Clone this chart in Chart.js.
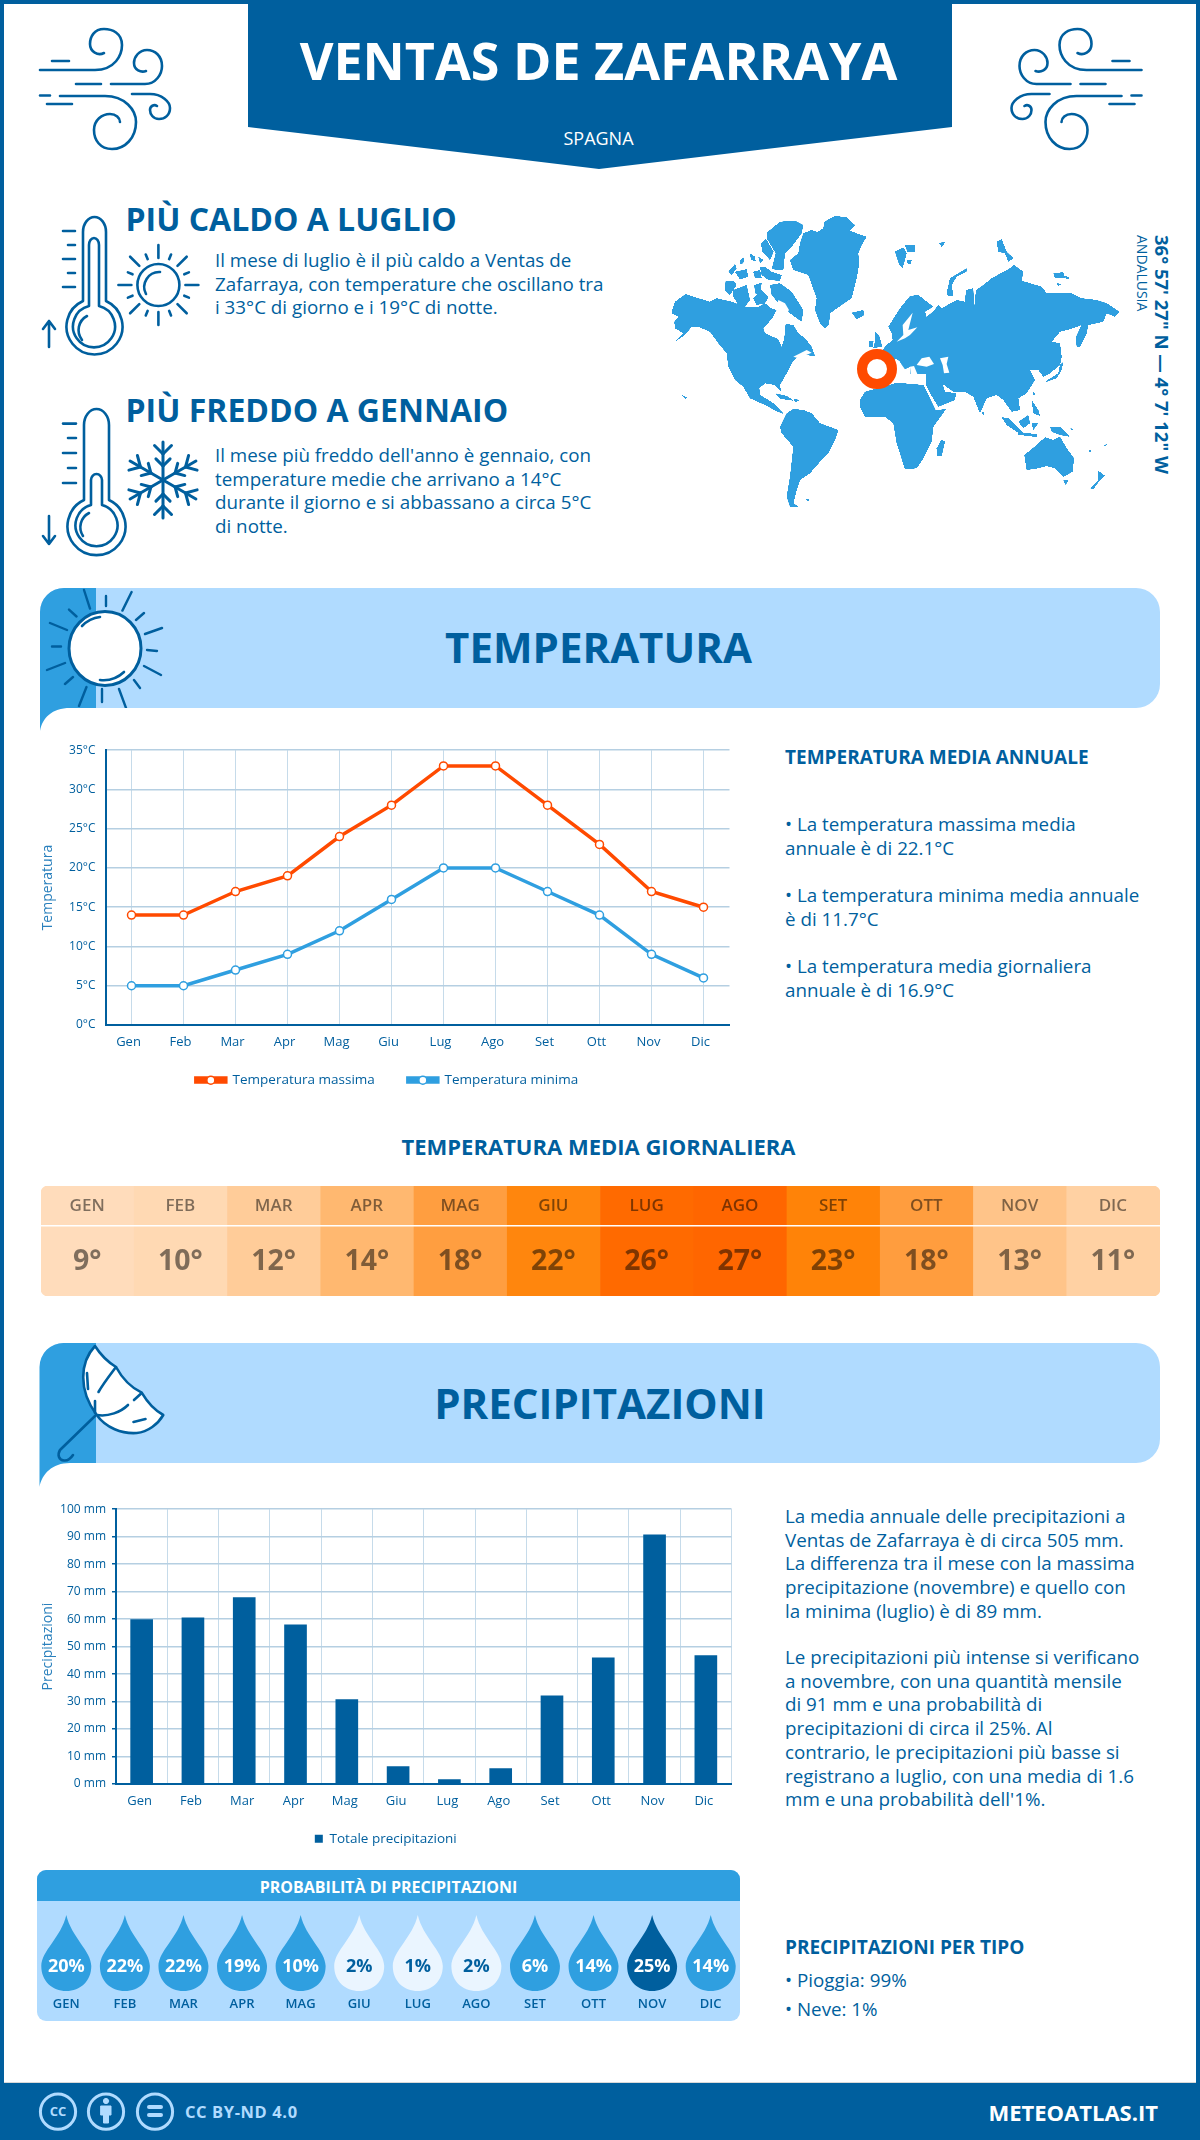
<!DOCTYPE html>
<html lang="it">
<head>
<meta charset="utf-8">
<title>Ventas de Zafarraya</title>
<script src="https://cdn.jsdelivr.net/npm/chart.js@4"></script>
<style>
html,body{margin:0;padding:0;background:#fff}
#page{position:relative;width:1200px;height:2140px;overflow:hidden;font-family:"Open Sans",sans-serif;color:#005f9e}
#page svg.layer{position:absolute;left:0;top:0}
canvas{position:absolute;display:block}
.t{position:absolute;white-space:nowrap;line-height:1;margin:0}
.b{font-weight:700}
.c{left:0;width:1197px;text-align:center}
.p{position:absolute;white-space:nowrap;margin:0;font-size:18.8px;line-height:23.7px;left:785px}
</style>
</head>
<body>
<div id="page">
<svg class="layer" width="1200" height="2140" viewBox="0 0 1200 2140" id="art">
  <defs>
    <clipPath id="bandClip1"><rect x="40" y="588" width="200" height="120"/></clipPath>
    <filter id="soft" color-interpolation-filters="sRGB">
      <feGaussianBlur stdDeviation="2.2"/>
      <feComponentTransfer><feFuncA type="linear" slope="8" intercept="-3"/></feComponentTransfer>
    </filter>
  </defs>
  <!-- frame -->
  <rect x="0" y="0" width="1200" height="4" fill="#005f9e"/>
  <rect x="0" y="0" width="4" height="2140" fill="#005f9e"/>
  <rect x="1196" y="0" width="4" height="2140" fill="#005f9e"/>
  <rect x="0" y="2083" width="1200" height="57" fill="#005f9e"/>
  <rect x="4" y="2082" width="1192" height="1" fill="#d8d8d8"/>
  <!-- header ribbon -->
  <polygon points="248,0 952,0 952,127 599,169 248,127" fill="#005f9e"/>
  <!-- section bands -->
  <rect x="40" y="588" width="1120" height="120" rx="24" ry="24" fill="#b0dbff"/>
  <path d="M40 731 V612 A24 24 0 0 1 64 588 H96 V708 H70 C52 708 42 718 40 731 Z" fill="#2f9fe0"/>
  <rect x="40" y="1343" width="1120" height="120" rx="24" ry="24" fill="#b0dbff"/>
  <path d="M39.5 1487 V1367 A24 24 0 0 1 64 1343 H96 V1463 H70 C52 1463 42 1474 39.5 1487 Z" fill="#2f9fe0"/>
  <!-- probability panel -->
  <rect x="37" y="1870" width="703" height="151" rx="9" ry="9" fill="#b0dbff"/>
  <path d="M37 1901 V1879 A9 9 0 0 1 46 1870 H731 A9 9 0 0 1 740 1879 V1901 Z" fill="#2f9fe0"/>

  <!-- world map: west half -->
  <g transform="translate(665,210) scale(0.33333)">
    <g fill="#2f9fe0" filter="url(#soft)">
      <polygon points="415,70 440,60 458,66 475,55 478,35 510,18 545,22 570,45 555,62 580,72 605,80 590,105 580,130 582,165 575,205 560,265 530,285 495,310 492,345 480,355 465,340 450,300 455,265 430,195 385,180 375,150 400,130 405,100"/>
      <polygon points="305,68 345,35 390,32 415,45 410,70 380,110 360,130 355,180 320,178 332,130 305,85"/>
      <polygon points="288,100 303,87 326,125 315,150 292,125"/>
      <polygon points="190,185 210,162 215,175 200,195"/>
      <polygon points="225,150 237,142 235,160 225,162"/>
      <polygon points="210,185 245,178 250,200 225,208"/>
      <polygon points="254,130 270,140 272,155 258,148"/>
      <polygon points="280,140 295,150 285,160"/>
      <polygon points="265,185 285,180 290,205 270,205"/>
      <polygon points="285,172 300,170 320,185 350,195 345,212 310,210 290,195"/>
      <polygon points="182,212 205,212 215,225 195,255 180,240"/>
      <polygon points="205,240 245,225 255,270 240,290 220,285 205,260"/>
      <polygon points="268,225 290,218 285,255 270,250"/>
      <polygon points="290,240 310,262 300,280 275,285 265,265"/>
      <polygon points="315,225 345,220 380,245 415,300 410,335 375,310 345,285 320,255"/>
      <polygon points="20,305 30,275 62,252 100,265 135,275 155,265 200,275 240,290 280,290 300,280 318,295 335,300 322,325 295,355 300,370 340,388 350,412 358,385 362,342 385,345 400,370 420,385 440,410 450,438 420,435 400,440 385,452 365,490 345,525 348,545 330,525 300,520 283,535 285,555 310,570 325,580 345,600 357,612 338,605 300,585 255,565 235,530 210,510 190,470 185,430 160,400 135,365 100,350 80,350 60,375 30,395 55,370 30,355 28,335 40,320 20,310"/>
      <polygon points="330,550 365,558 387,572 345,566"/>
      <polygon points="385,566 404,570 390,577"/>
      <polygon points="50,554 68,563 60,566"/>
      <polygon points="345,650 365,610 385,597 415,600 440,610 465,640 520,660 510,690 490,730 465,755 435,790 405,810 395,840 385,880 402,890 375,890 365,860 375,800 385,710 350,670"/>
      <polygon points="560,308 595,300 598,315 575,328"/>
      <polygon points="630,365 642,375 652,410 625,414 630,395"/>
      <polygon points="613,394 626,394 622,412 611,412"/>
      <polygon points="420,868 434,866 430,874"/>
    </g>
    <g fill="#fff">
      <polygon points="340,270 360,280 372,300 360,320 345,310 335,290"/>
      <polygon points="385,440 425,420 440,428 400,445"/>
    </g>
  </g>
  <!-- world map: east half -->
  <g transform="translate(890,210) scale(0.33333)">
    <g fill="#2f9fe0" filter="url(#soft)">
      <polygon points="-60,460 -40,440 -10,405 8,390 5,368 -5,350 30,295 60,258 85,255 130,290 105,305 110,322 135,298 145,285 155,295 200,270 225,275 228,240 250,235 252,300 258,240 280,225 305,205 360,175 372,165 400,185 395,212 455,230 470,250 545,250 575,265 620,270 650,280 688,305 675,320 650,310 640,335 595,345 590,370 570,412 560,410 558,380 575,345 540,358 510,365 485,395 510,400 515,440 510,465 480,490 460,500 445,480 420,480 435,510 410,550 385,565 390,600 365,605 340,570 320,555 290,565 270,610 250,560 225,545 190,545 158,522 165,545 198,550 195,570 145,590 120,550 108,525 108,492 60,492 60,470 40,480 30,455 15,445 10,510 -50,510"/>
      <polygon points="-90,570 -75,545 -20,530 20,518 100,525 137,600 168,598 130,650 125,695 100,745 80,775 45,778 20,700 10,640 -15,620 -75,620 -90,590"/>
      <polygon points="15,125 40,112 50,130 38,175 28,165"/>
      <polygon points="45,105 75,105 75,125 52,125"/>
      <polygon points="52,150 65,150 62,162 52,160"/>
      <polygon points="147,98 165,97 155,112"/>
      <polygon points="170,250 180,205 230,175 232,183 200,200 185,225 190,258 175,258"/>
      <polygon points="320,95 335,88 350,125 370,145 355,155 345,130 325,125"/>
      <polygon points="490,190 520,187 525,205 495,205"/>
      <polygon points="525,197 540,205 528,207"/>
      <polygon points="500,220 515,222 505,228"/>
      <polygon points="465,515 505,490 510,465 520,455 515,480 500,505 470,515"/>
      <polygon points="275,605 283,605 280,617"/>
      <polygon points="335,622 355,625 400,668 380,665 350,645"/>
      <polygon points="385,635 415,615 420,640 400,655"/>
      <polygon points="385,666 440,673 440,681 385,674"/>
      <polygon points="425,640 445,640 430,660"/>
      <polygon points="425,570 445,600 450,618 430,610"/>
      <polygon points="428,545 436,552 430,556"/>
      <polygon points="480,650 510,650 540,680 510,675 485,665"/>
      <polygon points="540,655 552,657 545,661"/>
      <polygon points="595,718 606,724 598,726"/>
      <polygon points="640,705 652,703 645,710"/>
      <polygon points="403,735 440,705 465,682 490,690 510,680 530,715 552,745 548,785 520,800 495,775 470,768 445,775 410,780"/>
      <polygon points="520,810 535,810 527,825"/>
      <polygon points="625,782 645,797 630,810 610,838 600,835 625,810"/>
      <polygon points="155,688 165,695 155,738 140,738 140,715"/>
    </g>
    <g fill="#fff">
      <polygon points="20,395 40,375 38,345 68,308 60,340 55,360 82,352 60,375 45,385"/>
      <polygon points="80,465 95,445 118,440 132,462 110,470"/>
      <polygon points="150,445 175,440 170,462 178,488 162,490 158,465"/>
      <polygon points="25,450 50,485 40,490 20,465"/>
      <polygon points="60,470 72,468 82,492 62,492"/>
    </g>
  </g>
  <circle cx="877" cy="369" r="15" fill="#fff" stroke="#ff4a00" stroke-width="10"/>

  <g id="icons" fill="none" stroke="#005f9e" stroke-width="2.6" stroke-linecap="round" stroke-linejoin="round">
    <!-- wind left -->
    <g id="wind">
      <path d="M40 70 H95 C115 70 122 55 122 45 C122 33 112 29 104 29 C94 29 90 37 90 44 C90 52 98 56 104 53"/>
      <path d="M111 84 H145 C156 84 162 74 162 66 C162 56 155 50 147 50 C139 50 134 57 134 63 C134 70 141 73 146 71"/>
      <path d="M52 61 H69 M76 84 H101 M40 95.5 H50 M47 104 H72"/>
      <path d="M60 96 H105 C125 96 136 110 136 122 C136 138 125 149 112 149 C100 149 94 140 94 130 C94 120 102 114 110 114 C116 114 120 118 120 122"/>
      <path d="M132 94 H150 C162 94 170 102 170 108 C170 115 165 119 159 119 C153 119 150 114 150 110 C150 106 154 104 157 106"/>
    </g>
    <use href="#wind" transform="translate(1181.5,0) scale(-1,1)"/>
    <!-- hot thermometer -->
    <path d="M83 301 V232 A11.5 15 0 0 1 106 232 V301 A28 28 0 1 1 83 301 Z"/>
    <path d="M89 306 V245 A5 7 0 0 1 99 245 V306 A21 21 0 1 1 89 306 Z"/>
    <path d="M82 340 A16 16 0 0 1 87 316"/>
    <path d="M63 231 H75 M68 245 H75 M63 259 H75 M68 273 H75 M63 287 H75"/>
    <path d="M49 347 V321 M43 329 L49 321 L55 329"/>
    <!-- sun small -->
    <circle cx="158.4" cy="285" r="21"/>
    <path d="M146 294 A15 15 0 0 1 160 272"/>
    <g id="smallRays"></g>
    <!-- cold thermometer -->
    <path d="M84 500 V425 A12.5 16 0 0 1 109 425 V500 A29 29 0 1 1 84 500 Z"/>
    <path d="M91 505 V480 A5.5 6 0 0 1 102 480 V505 A21 21 0 1 1 91 505 Z"/>
    <path d="M83 536 A16 16 0 0 1 89 513"/>
    <path d="M63 423.6 H76 M68 438 H76 M63 453 H76 M68 468 H76 M63 483 H76"/>
    <path d="M49 516 V544 M43 536 L49 544 L55 536"/>
    <!-- snowflake -->
    <g id="flake" stroke-width="3"></g>
    <!-- big sun -->
    <path clip-path="url(#bandClip1)" stroke-width="2.4" d="M84 590 L90 608.6 M106 596 V606 M131.6 592 L122.4 610.6 M144 613 L136 620 M162 628 L145 634 M147 650 L157 651 M144 666 L161 675 M134 680 L140 688 M119 689 L126 708 M102 689 V702 M86.5 687 L79 706 M73 677 L65 684 M65 663 L47 670 M52 646.5 H61 M50 623 L67 630 M69 609.6 L76.5 616.5"/>
    <ellipse cx="105" cy="648.5" rx="36" ry="37" fill="#fff" stroke-width="3"/>
    <path d="M82 626 A30 30 0 0 1 100 617 M100 680 A30 30 0 0 0 124 672"/>
    <!-- umbrella -->
    <path d="M95 1346 C80 1362 78 1390 96.7 1415 C106 1428 122 1434 136.7 1433 C148 1432 158 1424 163.3 1415 C152 1409 146 1400 141.7 1392.7 C132 1388 122 1378 116 1367 C108 1362 100 1354 95 1346 Z" fill="#fff"/>
    <path d="M95 1413 V1401 M98.5 1392 C103 1384 110 1375 116 1367 M97 1415 C108 1417 121 1412 128 1405 M134 1400 L141.7 1393 M87 1373 L88 1389 M133.5 1422 L145.5 1419"/>
    <path d="M95 1416 L60 1450 C57 1455 59 1460 64 1460.5 C68 1461 71 1458 73 1455"/>
    <!-- cc icons -->
    <g stroke="#b0dbff" stroke-width="3">
      <circle cx="58" cy="2111.7" r="17.6"/><circle cx="106" cy="2111.7" r="17.6"/><circle cx="155" cy="2111.7" r="17.6"/>
      <path d="M149 2107 H161 M149 2115 H161" stroke-width="4"/>
      <path d="M101 2106 H111 V2115 H108.5 V2123 H103.5 V2115 H101 Z" fill="#b0dbff" stroke-width="1"/>
      <circle cx="106" cy="2101" r="2.6" fill="#b0dbff" stroke-width="1"/>
    </g>
  </g>
</svg>

<div class="t b c" style="top:34.4px;font-size:52px;color:#fff">VENTAS DE ZAFARRAYA</div>
<div class="t c" style="top:129px;font-size:18px;color:#fff">SPAGNA</div>

<div class="t b" style="left:125.5px;top:203px;font-size:32px">PIÙ CALDO A LUGLIO</div>
<div class="p" style="left:215px;top:249px">Il mese di luglio è il più caldo a Ventas de<br>Zafarraya, con temperature che oscillano tra<br>i 33°C di giorno e i 19°C di notte.</div>
<div class="t b" style="left:125.5px;top:394px;font-size:32px">PIÙ FREDDO A GENNAIO</div>
<div class="p" style="left:215px;top:444px">Il mese più freddo dell'anno è gennaio, con<br>temperature medie che arrivano a 14°C<br>durante il giorno e si abbassano a circa 5°C<br>di notte.</div>

<div class="t b" style="left:1150px;top:235px;font-size:18.5px;line-height:24px;writing-mode:vertical-rl">36° 57' 27" N — 4° 7' 12" W</div>
<div class="t" style="left:1134px;top:235px;font-size:14px;line-height:16px;writing-mode:vertical-rl">ANDALUSIA</div>

<div class="t b c" style="top:626px;font-size:42px">TEMPERATURA</div>
<div class="t b" style="left:785px;top:747.5px;font-size:19px">TEMPERATURA MEDIA ANNUALE</div>
<div class="p" style="top:813px">• La temperatura massima media<br>annuale è di 22.1°C</div>
<div class="p" style="top:884px">• La temperatura minima media annuale<br>è di 11.7°C</div>
<div class="p" style="top:955px">• La temperatura media giornaliera<br>annuale è di 16.9°C</div>

<div class="t b c" style="top:1135px;font-size:22px">TEMPERATURA MEDIA GIORNALIERA</div>

<div class="t b" style="left:0;width:1200px;text-align:center;top:1382px;font-size:42px">PRECIPITAZIONI</div>
<div class="p" style="top:1505px">La media annuale delle precipitazioni a<br>Ventas de Zafarraya è di circa 505 mm.<br>La differenza tra il mese con la massima<br>precipitazione (novembre) e quello con<br>la minima (luglio) è di 89 mm.</div>
<div class="p" style="top:1646px">Le precipitazioni più intense si verificano<br>a novembre, con una quantità mensile<br>di 91 mm e una probabilità di<br>precipitazioni di circa il 25%. Al<br>contrario, le precipitazioni più basse si<br>registrano a luglio, con una media di 1.6<br>mm e una probabilità dell'1%.</div>

<div class="t b" style="left:37px;width:703px;text-align:center;top:1878.5px;font-size:16px;color:#fff">PROBABILITÀ DI PRECIPITAZIONI</div>
<div class="t b" style="left:785px;top:1937.5px;font-size:19px">PRECIPITAZIONI PER TIPO</div>
<div class="p" style="top:1968.5px">• Pioggia: 99%</div>
<div class="p" style="top:1997.5px">• Neve: 1%</div>

<div class="t b" style="left:185px;top:2103.5px;font-size:16.5px;color:#b0dbff;letter-spacing:.6px">CC BY-ND 4.0</div>
<div class="t b" style="right:42px;top:2100.5px;font-size:22px;color:#fff">METEOATLAS.IT</div>
<div class="t b" style="left:49px;top:2105px;font-size:13px;color:#b0dbff;width:18px;text-align:center">CC</div>

<canvas id="tempChart" width="695" height="370" style="left:40px;top:733px"></canvas>
<canvas id="heatChart" width="1119" height="110" style="left:41px;top:1186px"></canvas>
<canvas id="rainChart" width="695" height="366" style="left:40px;top:1496px"></canvas>
<canvas id="dropChart" width="703" height="120" style="left:37px;top:1901px"></canvas>
</div>

<script>
// ---------- chart data ----------
const months = ["Gen","Feb","Mar","Apr","Mag","Giu","Lug","Ago","Set","Ott","Nov","Dic"];
const monthsUpper = ["GEN","FEB","MAR","APR","MAG","GIU","LUG","AGO","SET","OTT","NOV","DIC"];
const tempMax = [14,14,17,19,24,28,33,33,28,23,17,15];
const tempMin = [5,5,7,9,12,16,20,20,17,14,9,6];
const dailyAvg = [9,10,12,14,18,22,26,27,23,18,13,11];
const heatColors = ["#ffdcbb","#ffd9b3","#ffcc99","#ffb870","#ff9e40","#ff860d","#ff6a00","#ff6600","#ff8308","#ff9d3e","#ffc489","#ffd1a3"];
const precipitation = [59.8,60.5,67.8,57.9,30.7,6.3,1.6,5.6,32.1,45.9,90.7,46.7];
const rainChance = [20,22,22,19,10,2,1,2,6,14,25,14];
const dropColors = ["#2f9fe0","#2f9fe0","#2f9fe0","#2f9fe0","#2f9fe0","#eaf5ff","#eaf5ff","#eaf5ff","#2f9fe0","#2f9fe0","#005f9e","#2f9fe0"];
const dropText = ["#fff","#fff","#fff","#fff","#fff","#005f9e","#005f9e","#005f9e","#fff","#fff","#fff","#fff"];

const BLUE = "#005f9e", SKY = "#2f9fe0", RED = "#ff4a00", GRID = "#b5cfe2", GRIDV = "#c6dbea", FONT = "'Open Sans'";
Chart.defaults.font.family = FONT;
Chart.defaults.color = BLUE;
Chart.defaults.animation = false;
Chart.defaults.responsive = false;

// ---------- decorative rays / flake ----------
(function(){
  const NS = "http://www.w3.org/2000/svg";
  function line(g, x1, y1, x2, y2){
    const l = document.createElementNS(NS, "line");
    l.setAttribute("x1", x1); l.setAttribute("y1", y1); l.setAttribute("x2", x2); l.setAttribute("y2", y2);
    g.appendChild(l);
  }
  const sr = document.getElementById("smallRays");
  for (let i = 0; i < 16; i++) {
    const a = i * Math.PI / 8, r1 = i % 2 ? 28 : 27, r2 = i % 2 ? 33 : 40;
    line(sr, 158.4 + r1*Math.cos(a), 285 + r1*Math.sin(a), 158.4 + r2*Math.cos(a), 285 + r2*Math.sin(a));
  }
  const fl = document.getElementById("flake");
  for (let i = 0; i < 6; i++) {
    const a = i * Math.PI / 3 + Math.PI / 2, c = Math.cos(a), s = Math.sin(a), cx = 163, cy = 480;
    line(fl, cx, cy, cx + 38*c, cy + 38*s);
    [[14,8],[26,10]].forEach(([d,b]) => {
      const px = cx + d*c, py = cy + d*s;
      [Math.PI/4, -Math.PI/4].forEach(t => {
        line(fl, px, py, px + (b+2)*Math.cos(a+t), py + (b+2)*Math.sin(a+t));
      });
    });
  }
})();

// ---------- temperature lines ----------
const legendDots = {
  id: "legendDots",
  afterDraw(chart) {
    const boxes = chart.legend && chart.legend.legendHitBoxes;
    if (!boxes) return;
    const ctx = chart.ctx;
    boxes.forEach((b, i) => {
      ctx.beginPath();
      ctx.arc(b.left + 15, b.top + 7, 4, 0, Math.PI * 2);
      ctx.fillStyle = "#fff";
      ctx.strokeStyle = chart.data.datasets[i].borderColor;
      ctx.lineWidth = 1.5;
      ctx.fill(); ctx.stroke();
    });
  }
};
function fixLegendHeight(h, lift){
  return {
    id: "fixLegendHeight",
    beforeUpdate(chart){
      const lg = chart.legend;
      if (!lg._fitWrapped) {
        const fit = lg.fit;
        lg.fit = function(){ fit.call(this); this.height = h; };
        lg._fitWrapped = true;
      }
    },
    afterLayout(chart){ chart.legend.top -= lift; }
  };
}
new Chart(document.getElementById("tempChart"), {
  type: "line",
  data: { labels: months, datasets: [
    { label: "Temperatura massima", data: tempMax, borderColor: RED, backgroundColor: RED, borderWidth: 3.5, tension: 0, pointRadius: 4, pointBorderWidth: 1.5, pointBackgroundColor: "#fff", pointBorderColor: RED },
    { label: "Temperatura minima", data: tempMin, borderColor: SKY, backgroundColor: SKY, borderWidth: 3.5, tension: 0, pointRadius: 4, pointBorderWidth: 1.5, pointBackgroundColor: "#fff", pointBorderColor: SKY }
  ]},
  options: {
    layout: { padding: { top: 9.8, right: 1, left: 0, bottom: 0 } },
    scales: {
      x: { offset: true, afterFit: s => { s.height = 34; },
        grid: { offset: false, color: GRIDV, lineWidth: 1, drawTicks: false },
        border: { color: BLUE, width: 2 },
        ticks: { autoSkip: false, maxRotation: 0, padding: 9, labelOffset: -3, font: { size: 13 }, color: BLUE } },
      y: { min: 0, max: 35, afterFit: s => { s.width = 65.5; },
        grid: { color: GRID, lineWidth: 1.5, drawTicks: false },
        border: { color: BLUE, width: 2 },
        ticks: { stepSize: 5, padding: 10, font: { size: 12 }, color: BLUE, callback: v => v + "°C" },
        title: { display: true, text: "Temperatura", color: "#2a80bd", font: { size: 14 }, padding: { top: 0, bottom: 0 } } }
    },
    plugins: {
      legend: { position: "bottom", labels: { boxWidth: 30, boxHeight: 4, padding: 33, color: BLUE, font: { size: 13.5 } } },
      tooltip: { enabled: false }
    }
  },
  plugins: [fixLegendHeight(44, 18.75), legendDots]
});

// ---------- daily mean strip ----------
new Chart(document.getElementById("heatChart"), {
  type: "bar",
  data: { labels: monthsUpper, datasets: [{
    data: dailyAvg.map(() => 1),
    backgroundColor: heatColors,
    barPercentage: 1, categoryPercentage: 1, borderSkipped: false,
    borderRadius: c => c.dataIndex === 0 ? { topLeft: 7, bottomLeft: 7, topRight: 0, bottomRight: 0 }
      : c.dataIndex === 11 ? { topRight: 7, bottomRight: 7, topLeft: 0, bottomLeft: 0 } : 0
  }]},
  options: {
    layout: { padding: 0 },
    scales: { x: { display: false }, y: { display: false, min: 0, max: 1 } },
    plugins: { legend: { display: false }, tooltip: { enabled: false } }
  },
  plugins: [{
    id: "stripText",
    afterDatasetsDraw(chart) {
      const ctx = chart.ctx, x = chart.scales.x;
      ctx.save();
      ctx.fillStyle = "#fff";
      ctx.fillRect(chart.chartArea.left, 39, chart.chartArea.width, 1.5);
      ctx.textAlign = "center"; ctx.textBaseline = "middle";
      ctx.fillStyle = "rgba(0,0,0,.5)";
      monthsUpper.forEach((m, i) => {
        const px = x.getPixelForValue(i) - 0.5;
        ctx.font = "600 17px " + FONT;
        ctx.fillText(m, px, 20);
        ctx.font = "700 28.5px " + FONT;
        ctx.fillText(dailyAvg[i] + "°", px, 76);
      });
      ctx.restore();
    }
  }]
});

// ---------- precipitation bars ----------
new Chart(document.getElementById("rainChart"), {
  type: "bar",
  data: { labels: months, datasets: [
    { label: "Totale precipitazioni", data: precipitation, backgroundColor: BLUE, barThickness: 22 }
  ]},
  options: {
    layout: { padding: { top: 9.8, right: 3.5, left: 0, bottom: 0 } },
    scales: {
      x: { afterFit: s => { s.height = 38; },
        grid: { color: c => c.index === 12 ? "rgba(0,0,0,0)" : GRIDV, lineWidth: 1, drawTicks: false },
        border: { color: BLUE, width: 2 },
        ticks: { autoSkip: false, maxRotation: 0, padding: 9, labelOffset: -2, font: { size: 13 }, color: BLUE } },
      y: { min: 0, max: 100, afterFit: s => { s.width = 76; },
        grid: { color: GRID, lineWidth: 1.5, tickLength: 4, tickColor: BLUE },
        border: { color: BLUE, width: 2 },
        ticks: { stepSize: 10, padding: 6, font: { size: 12 }, color: BLUE, callback: v => v + " mm" },
        title: { display: true, text: "Precipitazioni", color: "#2a80bd", font: { size: 14 }, padding: { top: 0, bottom: 0 } } }
    },
    plugins: {
      legend: { position: "bottom", labels: { boxWidth: 8, boxHeight: 8, padding: 10, color: BLUE, font: { size: 13.5 } } },
      tooltip: { enabled: false }
    }
  },
  plugins: [fixLegendHeight(40, 0)]
});

// ---------- rain probability drops ----------
new Chart(document.getElementById("dropChart"), {
  type: "line",
  data: { labels: monthsUpper, datasets: [{ data: rainChance, showLine: false, pointRadius: 0 }] },
  options: {
    layout: { padding: 0 },
    scales: { x: { display: false, offset: true }, y: { display: false, min: 0, max: 100 } },
    plugins: { legend: { display: false }, tooltip: { enabled: false } }
  },
  plugins: [{
    id: "drops",
    afterDatasetsDraw(chart) {
      const ctx = chart.ctx, x = chart.scales.x, top = 14, w = 25, bottom = 90;
      ctx.save();
      ctx.textAlign = "center"; ctx.textBaseline = "middle";
      rainChance.forEach((v, i) => {
        const cx = x.getPixelForValue(i);
        ctx.beginPath();
        ctx.moveTo(cx, top);
        ctx.bezierCurveTo(cx + 5, top + 22, cx + w, top + 36, cx + w, top + 51);
        ctx.bezierCurveTo(cx + w, bottom - 10, cx + 14, bottom, cx, bottom);
        ctx.bezierCurveTo(cx - 14, bottom, cx - w, bottom - 10, cx - w, top + 51);
        ctx.bezierCurveTo(cx - w, top + 36, cx - 5, top + 22, cx, top);
        ctx.closePath();
        ctx.fillStyle = dropColors[i];
        ctx.fill();
        ctx.fillStyle = dropText[i];
        ctx.font = "700 18px " + FONT;
        ctx.fillText(v + "%", cx, 66);
        ctx.fillStyle = BLUE;
        ctx.font = "600 13px " + FONT;
        ctx.fillText(monthsUpper[i], cx, 103);
      });
      ctx.restore();
    }
  }]
});
</script>
</body>
</html>
